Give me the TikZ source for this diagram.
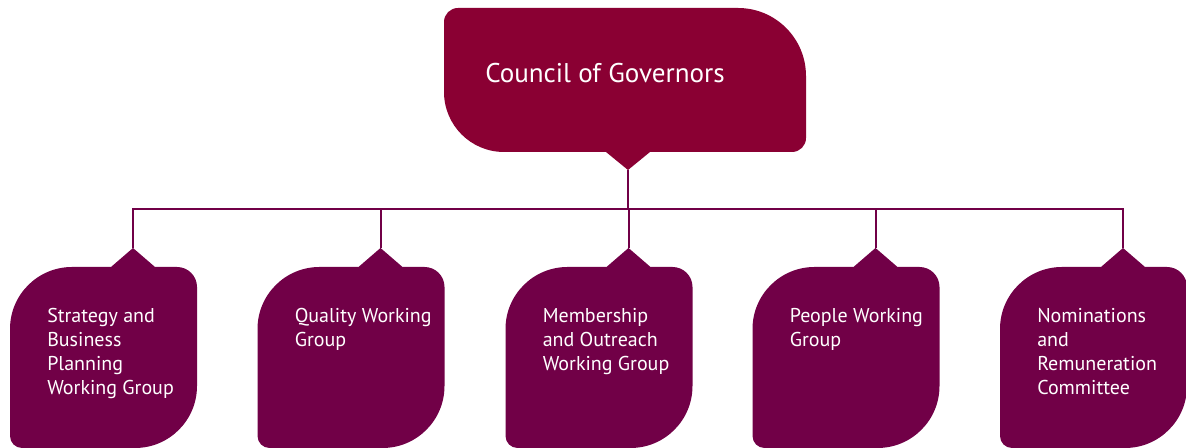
\documentclass[tikz,border=0pt]{standalone}
\usepackage{fontspec}
\setmainfont{PT Sans}
\usetikzlibrary{positioning,calc,backgrounds}
\definecolor{govColor}{HTML}{8A0033}
\definecolor{grpColor}{HTML}{710047}
\tikzset{
	grp/.style={minimum width=140.25pt, minimum height=135.75pt, inner sep=0, outer sep=0},
	gov/.style={minimum width=271.5pt, minimum height=108pt, inner sep=0, outer sep=0},
	grplabel/.style={anchor=north west, inner sep=0, align=left, text=white,
		font=\fontsize{15}{18}\selectfont},
	govlabel/.style={anchor=base west, inner sep=0, text=white,
		font=\fontsize{20.3}{24}\selectfont},
	link/.style={draw=grpColor, line width=1.5pt},
	bus/.style={to path={|- ($(\tikztostart)!.5!(\tikztotarget)$) -| (\tikztotarget)}}
}
% leaf shape: big corners top left and bottom right, tab on top
\newcommand{\grpshape}[1]{%
	\fill[grpColor] ($(#1.north west)+(62,0)$) -- ($(#1.north west)+(101,0)$)
	-- ($(#1.north west)+(123,19)$) -- ($(#1.north west)+(145,0)$)
	-- ($(#1.north east)+(-20,0)$) arc[start angle=90, end angle=0, radius=20]
	-- ($(#1.south east)+(0,62)$) arc[start angle=0, end angle=-90, radius=62]
	-- ($(#1.south west)+(12,0)$) arc[start angle=270, end angle=180, radius=12]
	-- ($(#1.north west)+(0,-62)$) arc[start angle=180, end angle=90, radius=62]
	-- cycle;
	\coordinate (#1 tip) at ($(#1.north west)+(123,19)$);}

\begin{document}
\begin{tikzpicture}[x=0.75pt, y=0.75pt]
\useasboundingbox (0,0) rectangle (1186,448);
\node[gov] (gov) at (625, 368) {};
\node[grp] (strat) at (103.5, 90.5) {};
\node[grp] (qual) at (351, 90.5) {};
\node[grp] (memb) at (599, 90.5) {};
\node[grp] (people) at (846, 90.5) {};
\node[grp] (nomin) at (1093.5, 90.5) {};

\fill[govColor] ($(gov.north west)+(14,0)$) -- ($(gov.north east)+(-68,0)$)
	arc[start angle=90, end angle=0, radius=68]
	-- ($(gov.south east)+(0,14)$) arc[start angle=0, end angle=-90, radius=14]
	-- ($(gov.south west)+(206,0)$) -- ($(gov.south west)+(184,-18)$)
	-- ($(gov.south west)+(162,0)$) -- ($(gov.south west)+(60,0)$)
	arc[start angle=270, end angle=180, radius=60]
	-- ($(gov.north west)+(0,-14)$) arc[start angle=180, end angle=90, radius=14]
	-- cycle;
\coordinate (gov tip) at ($(gov.south west)+(184,-18)$);
\grpshape{strat}
\grpshape{qual}
\grpshape{memb}
\grpshape{people}
\grpshape{nomin}

\node[govlabel] (govtext) at ($(gov.north west)+(41,-75)$) {Council of Governors};
\node[grplabel] (strattext) at ($(strat.north west)+(37,-41)$) {Strategy and\\Business\\Planning\\Working Group};
\node[grplabel] (qualtext) at ($(qual.north west)+(37,-41)$) {Quality Working\\Group};
\node[grplabel] (membtext) at ($(memb.north west)+(37,-41)$) {Membership\\and Outreach\\Working Group};
\node[grplabel] (peopletext) at ($(people.north west)+(37,-41)$) {People Working\\Group};
\node[grplabel] (nomintext) at ($(nomin.north west)+(37,-41)$) {Nominations\\and\\Remuneration\\Committee};

\path[link] (gov tip) edge[bus] (strat tip) edge[bus] (qual tip) edge[bus] (memb tip)
	edge[bus] (people tip) edge[bus] (nomin tip);
\end{tikzpicture}
\end{document}
